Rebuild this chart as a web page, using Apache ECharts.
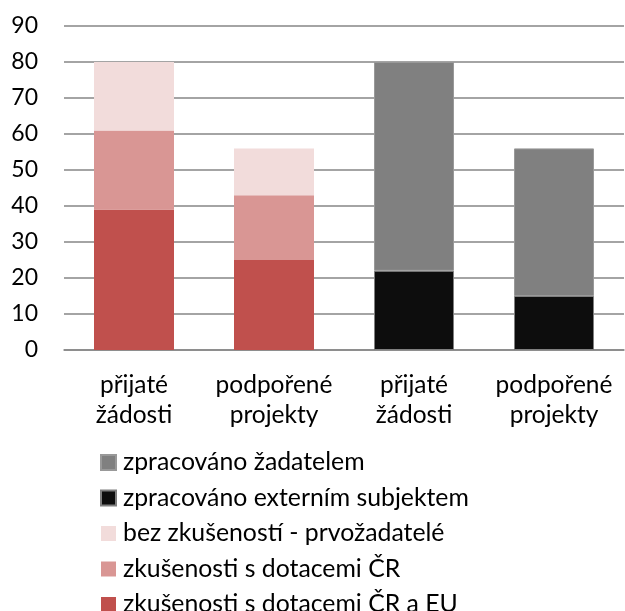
<!DOCTYPE html>
<html>
<head>
<meta charset="utf-8">
<script src="https://cdn.jsdelivr.net/npm/echarts@6/dist/echarts.min.js"></script>
<style>
  html, body { margin: 0; padding: 0; background: #fff; }
  #main { width: 625px; height: 611px; }
</style>
</head>
<body>
<div id="main"></div>
<script>
// kategorie
var categories = ['přijaté\nžádosti', 'podpořené\nprojekty', 'přijaté\nžádosti', 'podpořené\nprojekty'];
// zkušenosti (první dva sloupce)
var cr_eu   = [39, 25, null, null];
var cr      = [22, 18, null, null];
var bez     = [19, 13, null, null];
// zpracování (druhé dva sloupce)
var externi = [null, null, 22, 15];
var zadatel = [null, null, 58, 41];
var yTicks  = [0, 90, 10]; // min, max, krok

var names = {
    zadatel: 'zpracováno žadatelem',
    externi: 'zpracováno externím subjektem',
    bez: 'bez zkušeností - prvožadatelé',
    cr: 'zkušenosti s dotacemi ČR',
    cr_eu: 'zkušenosti s dotacemi ČR a EU'
};

var font = 'Lato, "Open Sans", sans-serif';
var myChart = echarts.init(document.getElementById('main'));

function bar(name, data, color, border) {
    return {
        name: name,
        type: 'bar',
        stack: 'a',
        barWidth: 80,
        data: data,
        itemStyle: {
            color: color,
            borderColor: border || color,
            borderWidth: border ? 1 : 0
        }
    };
}

var option = {
    animation: false,
    backgroundColor: '#fff',
    textStyle: { fontFamily: font },
    grid: { left: 64, right: 1, top: 26, bottom: 261 },
    legend: {
        orient: 'vertical',
        left: 100,
        top: 450,
        height: 220,
        padding: 0,
        itemWidth: 15,
        itemHeight: 15,
        itemGap: 10.5,
        icon: 'rect',
        textStyle: { fontFamily: font, fontSize: 24.8, color: '#000', padding: [0, 0, 0, 2] },
        data: [names.zadatel, names.externi, names.bez, names.cr, names.cr_eu]
    },
    xAxis: {
        type: 'category',
        data: categories,
        axisLine: { lineStyle: { color: '#868686', width: 1.5 } },
        axisTick: { show: false },
        axisLabel: {
            color: '#000',
            fontSize: 24.5,
            fontFamily: font,
            lineHeight: 30,
            margin: 20,
            interval: 0
        }
    },
    yAxis: {
        type: 'value',
        min: yTicks[0],
        max: yTicks[1],
        interval: yTicks[2],
        axisLine: { show: false },
        axisTick: { show: false },
        axisLabel: { color: '#000', fontSize: 23, fontFamily: font, margin: 26 },
        splitLine: { lineStyle: { color: '#868686', width: 1.5 } }
    },
    series: [
        bar(names.cr_eu, cr_eu, '#c0504d'),
        bar(names.cr, cr, '#d99694'),
        bar(names.bez, bez, '#f2dcdb'),
        bar(names.externi, externi, '#0d0d0d', '#7f7f7f'),
        bar(names.zadatel, zadatel, '#808080', '#999999')
    ]
};
myChart.setOption(option);
</script>
</body>
</html>
